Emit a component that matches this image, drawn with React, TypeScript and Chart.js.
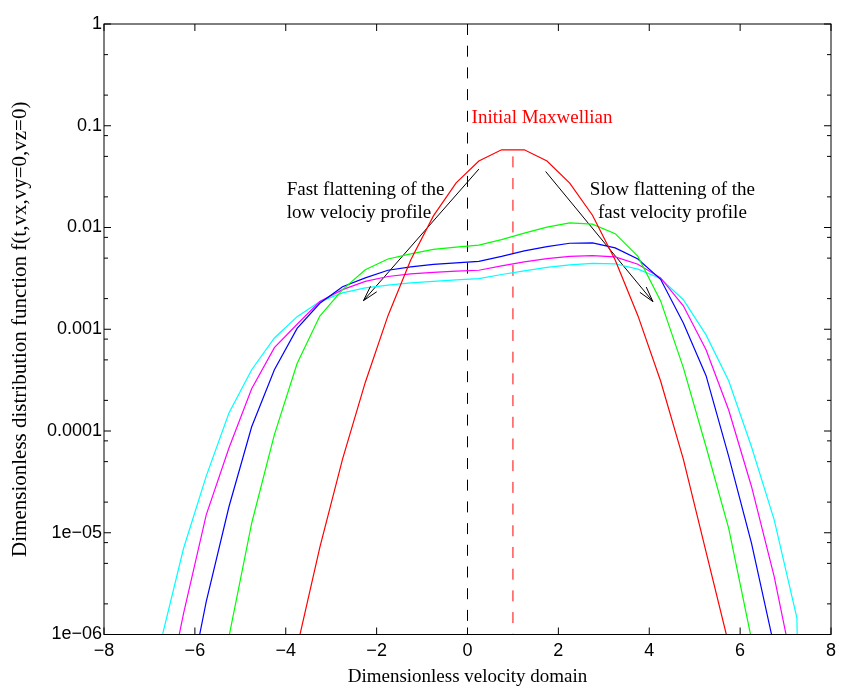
import React, { useEffect, useRef } from 'react';
import { Chart, registerables } from 'chart.js';

Chart.register(...registerables);

// ---- data ----
const velocity = [-7.75, -7.25, -6.75, -6.25, -5.75, -5.25, -4.75, -4.25, -3.75, -3.25, -2.75, -2.25, -1.75, -1.25, -0.75, -0.25,
  0.25, 0.75, 1.25, 1.75, 2.25, 2.75, 3.25, 3.75, 4.25, 4.75, 5.25, 5.75, 6.25, 6.75, 7.25, 7.75];

const maxwellian = [1e-20, 1e-17, 1e-15, 1e-13, 1e-11, 2e-10, 4e-9, 6e-8, 7.5e-7, 7.2e-6, 5.3e-5, 3.0e-4, 1.36e-3, 4.8e-3, 0.013, 0.0275,
  0.045, 0.058, 0.058, 0.045, 0.0273, 0.0132, 4.8e-3, 1.36e-3, 3.1e-4, 5.3e-5, 6.5e-6, 8e-7, 6e-8, 4e-9, 2e-10, 1e-11];

const greenSeries = [1e-14, 1e-12, 5e-11, 2e-9, 5e-8, 9.5e-7, 1.24e-5, 9.2e-5, 4.6e-4, 1.35e-3, 2.45e-3, 3.85e-3, 4.9e-3, 5.5e-3, 6.1e-3, 6.4e-3,
  6.7e-3, 7.6e-3, 8.8e-3, 0.0101, 0.0111, 0.0108, 8.7e-3, 5.2e-3, 1.9e-3, 4.2e-4, 7.0e-5, 1.1e-5, 9e-7, 5e-8, 2e-9, 1e-10];

const blueSeries = [1e-13, 1e-11, 5e-9, 1.6e-7, 2.1e-6, 1.8e-5, 1.1e-4, 4.0e-4, 1.02e-3, 1.8e-3, 2.62e-3, 3.2e-3, 3.8e-3, 4.1e-3, 4.35e-3, 4.5e-3,
  4.65e-3, 5.2e-3, 5.9e-3, 6.5e-3, 7.0e-3, 7.05e-3, 6.3e-3, 4.9e-3, 3.1e-3, 1.15e-3, 3.5e-4, 5.6e-5, 7.9e-6, 7.6e-7, 5e-8, 1e-9];

const magentaSeries = [1e-13, 1e-10, 1.3e-7, 1.6e-6, 1.5e-5, 6.8e-5, 2.6e-4, 6.6e-4, 1.12e-3, 1.87e-3, 2.45e-3, 2.95e-3, 3.3e-3, 3.5e-3, 3.62e-3, 3.72e-3,
  3.8e-3, 4.2e-3, 4.6e-3, 4.95e-3, 5.2e-3, 5.3e-3, 5.15e-3, 4.35e-3, 3.2e-3, 1.7e-3, 6.3e-4, 1.6e-4, 2.85e-5, 3.7e-6, 3e-7, 1e-9];

const cyanSeries = [1e-12, 5e-8, 8.5e-7, 7e-6, 3.6e-5, 1.5e-4, 4.0e-4, 8.2e-4, 1.33e-3, 1.87e-3, 2.28e-3, 2.55e-3, 2.72e-3, 2.85e-3, 2.95e-3, 3.05e-3,
  3.15e-3, 3.45e-3, 3.75e-3, 4.05e-3, 4.3e-3, 4.45e-3, 4.4e-3, 3.9e-3, 3.15e-3, 1.95e-3, 8.8e-4, 3.1e-4, 7.0e-5, 1.34e-5, 1.45e-6, 1e-20];

const xTickValues = [-8, -6, -4, -2, 0, 2, 4, 6, 8];
const yMajorTicks = [1e-6, 1e-5, 1e-4, 1e-3, 1e-2, 0.1, 1];
const yTickLabels = ['1e\u221206', '1e\u221205', '0.0001', '0.001', '0.01', '0.1', '1'];
const yMinorTicks = [0.5, 0.2, 0.08, 0.05, 0.02, 0.008, 0.005, 0.002, 8e-4, 5e-4, 2e-4, 8e-5, 5e-5, 2e-5, 8e-6, 5e-6, 2e-6];

// reference lines (x position, y from, y to)
const zeroLineX = [0, 0];
const zeroLineY = [1, 1e-6];
const peakLineX = [1, 1];
const peakLineY = [0.05, 1e-6];

// arrows: [start, end]
const leftArrowX = [0.25, -2.29];
const leftArrowY = [0.0375, 1.91e-3];
const rightArrowX = [1.72, 4.08];
const rightArrowY = [0.0355, 1.87e-3];

const annotationTexts = [
  { text: 'Initial Maxwellian', x: 0.09, y: 0.107, align: 'left', color: '#ff0000' },
  { text: 'Fast flattening of the', x: -3.98, y: 0.021, align: 'left', color: '#000000' },
  { text: 'low velociy profile', x: -3.98, y: 0.01236, align: 'left', color: '#000000' },
  { text: 'Slow flattening of the', x: 4.51, y: 0.021, align: 'center', color: '#000000' },
  { text: 'fast velocity profile', x: 4.51, y: 0.01236, align: 'center', color: '#000000' },
];

const SERIF = "'Liberation Serif', 'Times New Roman', serif";
const SANS = "'Liberation Sans', Arial, Helvetica, sans-serif";

function fmtX(v: number): string {
  return v < 0 ? '\u2212' + Math.abs(v) : String(v);
}

function toPoints(xs: number[], ys: number[]) {
  return xs.map((x, i) => ({ x, y: ys[i] }));
}

const overlayPlugin = {
  id: 'overlay',
  afterDatasetsDraw(chart: any) {
    const { ctx, chartArea: a } = chart;
    const xs = chart.scales.x;
    const ys = chart.scales.y;
    ctx.save();
    ctx.strokeStyle = '#000';
    ctx.lineWidth = 1;
    const seg = (x1: number, y1: number, x2: number, y2: number) => {
      ctx.beginPath();
      ctx.moveTo(x1, y1);
      ctx.lineTo(x2, y2);
      ctx.stroke();
    };
    // frame
    ctx.strokeRect(a.left, a.top, a.right - a.left, a.bottom - a.top);
    // x ticks (bottom & top, inward)
    for (const v of xTickValues) {
      const px = xs.getPixelForValue(v);
      seg(px, a.bottom, px, a.bottom - 7);
      seg(px, a.top, px, a.top + 7);
    }
    for (const v of yMajorTicks) {
      const py = ys.getPixelForValue(v);
      seg(a.left, py, a.left + 7, py);
      seg(a.right, py, a.right - 7, py);
    }
    for (const v of yMinorTicks) {
      const py = ys.getPixelForValue(v);
      seg(a.left, py, a.left + 4, py);
      seg(a.right, py, a.right - 4, py);
    }
    // arrow heads
    chart.data.datasets.forEach((ds: any, i: number) => {
      if (!ds.isArrow) return;
      const pts = chart.getDatasetMeta(i).data;
      const p0 = pts[0];
      const p1 = pts[pts.length - 1];
      const ang = Math.atan2(p1.y - p0.y, p1.x - p0.x);
      const len = 16;
      const spread = (15 * Math.PI) / 180;
      for (const s of [-spread, spread]) {
        seg(p1.x, p1.y, p1.x - len * Math.cos(ang + s), p1.y - len * Math.sin(ang + s));
      }
    });
    // texts
    ctx.font = `19px ${SERIF}`;
    ctx.textBaseline = 'alphabetic';
    for (const t of annotationTexts) {
      ctx.fillStyle = t.color;
      ctx.textAlign = t.align as CanvasTextAlign;
      ctx.fillText(t.text, xs.getPixelForValue(t.x), ys.getPixelForValue(t.y));
    }
    ctx.restore();
  },
};

export default function App() {
  const canvasRef = useRef<HTMLCanvasElement | null>(null);

  useEffect(() => {
    const canvas = canvasRef.current;
    if (!canvas) return;
    const curve = (label: string, ys: number[], color: string) => ({
      label,
      data: toPoints(velocity, ys),
      borderColor: color,
      backgroundColor: color,
      borderWidth: 1.2,
      pointRadius: 0,
      tension: 0,
      fill: false,
    });
    const chart = new Chart(canvas, {
      type: 'line',
      data: {
        datasets: [
          curve('Initial Maxwellian', maxwellian, '#ff0000'),
          curve('t1', greenSeries, '#00ff00'),
          curve('t2', blueSeries, '#0000ff'),
          curve('t3', magentaSeries, '#ff00ff'),
          curve('t4', cyanSeries, '#00ffff'),
          {
            label: 'v=0',
            data: toPoints(zeroLineX, zeroLineY),
            borderColor: '#000000',
            borderWidth: 1,
            borderDash: [11, 10.7],
            pointRadius: 0,
          },
          {
            label: 'v=1',
            data: toPoints(peakLineX, peakLineY),
            borderColor: '#ff0000',
            borderWidth: 1,
            borderDash: [11, 10.7],
            pointRadius: 0,
          },
          {
            label: 'arrowL',
            isArrow: true,
            data: toPoints(leftArrowX, leftArrowY),
            borderColor: '#000000',
            borderWidth: 1,
            pointRadius: 0,
          },
          {
            label: 'arrowR',
            isArrow: true,
            data: toPoints(rightArrowX, rightArrowY),
            borderColor: '#000000',
            borderWidth: 1,
            pointRadius: 0,
          },
        ] as any,
      },
      options: {
        animation: false,
        responsive: true,
        maintainAspectRatio: false,
        layout: { padding: { top: 24, right: 12, left: 0, bottom: 0 } },
        plugins: {
          legend: { display: false },
          tooltip: { enabled: false },
        },
        scales: {
          x: {
            type: 'linear',
            min: -8,
            max: 8,
            grid: { display: false, drawTicks: false },
            border: { display: false },
            ticks: {
              stepSize: 2,
              padding: 6,
              color: '#000',
              font: { family: SANS, size: 18 },
              callback: (v: any) => fmtX(Number(v)),
            },
            title: {
              display: true,
              text: 'Dimensionless velocity domain',
              color: '#000',
              font: { family: SERIF, size: 19 },
              padding: { top: 0, bottom: 3 },
            },
            afterFit: (s: any) => {
              s.height = 56.5;
            },
          },
          y: {
            type: 'logarithmic',
            min: 1e-6,
            max: 1,
            grid: { display: false, drawTicks: false },
            border: { display: false },
            afterBuildTicks: (s: any) => {
              s.ticks = yMajorTicks.map((v) => ({ value: v, major: true }));
            },
            ticks: {
              autoSkip: false,
              padding: 2,
              color: '#000',
              font: { family: SANS, size: 18 },
              callback: (v: any) => {
                const idx = yMajorTicks.findIndex((m) => Math.abs(m - Number(v)) / m < 1e-6);
                return idx >= 0 ? yTickLabels[idx] : '';
              },
            },
            title: {
              display: true,
              text: 'Dimensionless distribution function f(t,vx,vy=0,vz=0)',
              color: '#000',
              font: { family: SERIF, size: 21 },
              padding: { top: 8, bottom: 0 },
            },
            afterFit: (s: any) => {
              s.width = 104;
            },
          },
        },
      } as any,
      plugins: [overlayPlugin],
    });
    return () => chart.destroy();
  }, []);

  return (
    <div style={{ position: 'absolute', left: 0, top: 0, width: 843, height: 691, background: '#fff' }}>
      <canvas ref={canvasRef} />
    </div>
  );
}
